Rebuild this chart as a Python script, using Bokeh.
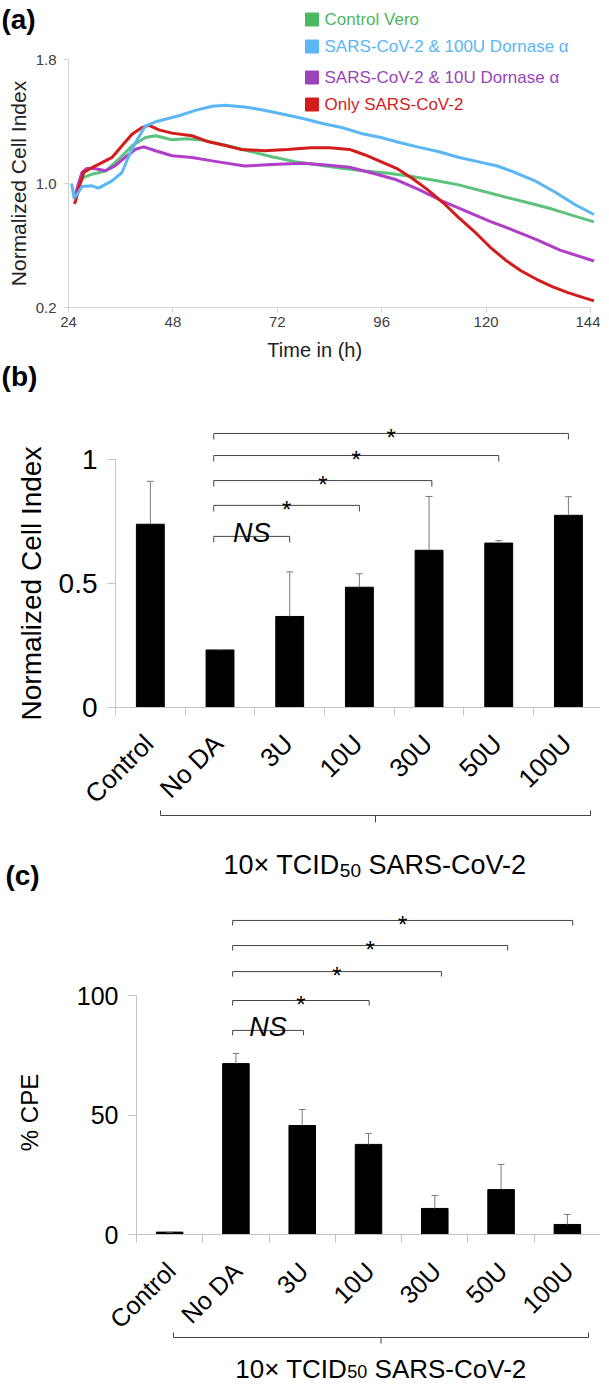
import math
from bokeh.plotting import figure
from bokeh.layouts import column
from bokeh.models import Range1d, FixedTicker, NumeralTickFormatter, ColumnDataSource
from bokeh.core.properties import value
from bokeh.embed import file_html
from bokeh.resources import INLINE

FONT = "Liberation Sans"

# ------------------------------------------------------------------ data (a)
a_names = ["Control Vero", "SARS-CoV-2 & 100U Dornase \u03b1",
           "SARS-CoV-2 & 10U Dornase \u03b1", "Only SARS-CoV-2"]
a_line_colors = ["#5cc27c", "#5ab6f4", "#b13ec6", "#d31c1c"]
a_legend_colors = ["#4cb860", "#5ab6f4", "#9a44ba", "#d31c1c"]
a_xticks = [24, 48, 72, 96, 120, 144]
a_yticks = [0.2, 1.0, 1.8]

green_t = [25.3, 26.4, 27.5, 29.4, 32.5, 35.5, 38.6, 41.7, 44.0, 47.8, 51.1, 54.7, 60.0, 65.4,
           70.7, 76.1, 81.5, 86.8, 92.2, 97.6, 103.0, 108.4, 113.7, 119.1, 124.5, 129.9, 135.2,
           140.6, 144.8]
green_v = [0.90, 0.99, 1.04, 1.06, 1.08, 1.155, 1.243, 1.297, 1.308, 1.282, 1.289, 1.28, 1.248,
           1.21, 1.173, 1.141, 1.12, 1.098, 1.081, 1.066, 1.045, 1.019, 0.991, 0.952, 0.912,
           0.874, 0.835, 0.788, 0.752]

blue_t = [24.7, 25.3, 26.2, 27.1, 29.4, 30.9, 34.0, 36.3, 37.9, 39.4, 41.7, 44.0, 49.4, 53.0,
          57.0, 60.0, 64.5, 69.0, 73.4, 77.9, 82.4, 86.8, 91.3, 95.8, 100.3, 104.7, 109.2, 113.6,
          118.1, 122.6, 127.1, 131.5, 136.0, 140.5, 144.8]
blue_v = [1.00, 0.905, 0.94, 0.98, 0.985, 0.97, 1.017, 1.071, 1.179, 1.265, 1.372, 1.398, 1.437,
          1.47, 1.498, 1.505, 1.494, 1.473, 1.447, 1.419, 1.387, 1.361, 1.323, 1.297, 1.263,
          1.233, 1.205, 1.169, 1.141, 1.113, 1.066, 1.013, 0.942, 0.863, 0.80]

purple_t = [25.3, 26.3, 27.1, 28.2, 29.9, 32.5, 34.7, 37.0, 39.4, 41.3, 44.0, 47.8, 52.4, 57.0,
            64.5, 70.7, 77.9, 83.3, 88.6, 94.0, 99.4, 104.7, 110.1, 115.5, 120.9, 126.3, 131.6,
            137.0, 144.8]
purple_v = [0.90, 1.00, 1.071, 1.097, 1.097, 1.082, 1.114, 1.168, 1.221, 1.236, 1.211, 1.179,
            1.168, 1.146, 1.113, 1.122, 1.13, 1.12, 1.105, 1.066, 1.024, 0.959, 0.884, 0.82,
            0.756, 0.698, 0.638, 0.57, 0.50]

red_t = [25.3, 25.6, 26.3, 27.5, 29.4, 31.7, 34.0, 36.3, 38.6, 40.9, 42.4, 44.8, 47.8, 52.4,
         56.2, 60.0, 63.6, 69.0, 74.3, 79.7, 84.1, 88.6, 92.2, 95.8, 99.4, 103.0, 106.6, 110.2,
         113.7, 117.3, 120.9, 124.5, 128.0, 131.6, 135.2, 138.8, 142.4, 144.8]
red_v = [0.87, 0.884, 0.963, 1.071, 1.103, 1.135, 1.168, 1.243, 1.318, 1.361, 1.376, 1.346,
         1.325, 1.308, 1.269, 1.245, 1.22, 1.212, 1.22, 1.231, 1.231, 1.22, 1.184, 1.141, 1.098,
         1.034, 0.959, 0.874, 0.78, 0.69, 0.59, 0.505, 0.437, 0.382, 0.335, 0.296, 0.264, 0.243]

# ------------------------------------------------------------------ data (b), (c)
categories = ["Control", "No DA", "3U", "10U", "30U", "50U", "100U"]
b_mean = [0.739, 0.232, 0.367, 0.485, 0.634, 0.663, 0.775]
b_sd = [0.173, 0.001, 0.180, 0.054, 0.217, 0.010, 0.075]
b_yticks = [0, 0.5, 1]
b_compare = ["3U", "10U", "30U", "50U", "100U"]
b_sig = ["NS", "*", "*", "*", "*"]

c_mean = [1.0, 71.5, 45.6, 37.7, 10.9, 18.8, 4.2]
c_sd = [0.0, 4.2, 6.7, 4.6, 5.4, 10.5, 4.2]
c_yticks = [0, 50, 100]
c_compare = ["3U", "10U", "30U", "50U", "100U"]
c_sig = ["NS", "*", "*", "*", "*"]

group_label = ("10\u00d7 TCID", "50", "SARS-CoV-2")

# ------------------------------------------------------------------ helpers
AXIS_GREY = "#c4c4c4"
ERR_GREY = "#7a7a7a"
BRACKET = "#444444"


def base_fig(height, xr, yr):
    p = figure(width=600, height=height, x_range=xr, y_range=yr, output_backend="svg",
               toolbar_location=None, min_border_left=0, min_border_right=0,
               min_border_top=0, min_border_bottom=0)
    p.xgrid.visible = False
    p.ygrid.visible = False
    p.outline_line_color = None
    p.background_fill_color = "white"
    p.border_fill_color = "white"
    return p


def txt(p, x, y, s, size, align="center", baseline="middle", color="black", style="normal",
        angle=0.0):
    p.text(x=[x], y=[y], text=[s], text_font=value(FONT), text_font_size=f"{size}px",
           text_color=color, text_align=align, text_baseline=baseline,
           text_font_style=style, angle=angle)


def sub_text(p, xc, y, px_per_unit, px_per_unit_y, size, sub_size, drop):
    """Group label with subscript, centred on xc (data units)."""
    w1 = 4.307 * size / px_per_unit
    w2 = 1.112 * sub_size / px_per_unit
    sp = 0.278 * size / px_per_unit
    w3 = 5.890 * size / px_per_unit
    left = xc - (w1 + w2 + sp + w3) / 2
    x1 = left + w1
    txt(p, x1, y, group_label[0], size, align="right", baseline="alphabetic")
    txt(p, x1, y - drop / px_per_unit_y, group_label[1], sub_size, align="left",
        baseline="alphabetic")
    txt(p, x1 + w2 + sp, y, group_label[2], size, align="left", baseline="alphabetic")


# ================================================================== panel (a)
A_PX = 522 / 120.0      # px per hour
A_PY = 155.0            # px per unit


def ax(px):
    return 24 + (px - 76) / A_PX


def ay(py):
    return 0.2 + (315 - py) / A_PY


pa = base_fig(362, Range1d(ax(8), ax(608)), Range1d(ay(370), ay(8)))
for t, v, c in [(green_t, green_v, a_line_colors[0]), (purple_t, purple_v, a_line_colors[2]),
                (red_t, red_v, a_line_colors[3]), (blue_t, blue_v, a_line_colors[1])]:
    pa.line(t, v, line_width=3, line_color=c)

pa.xaxis.fixed_location = 0.2
pa.yaxis.fixed_location = 24
pa.xaxis.bounds = (24, 144)
pa.yaxis.bounds = (0.2, 1.8)
for axis in (pa.xaxis[0], pa.yaxis[0]):
    axis.axis_line_color = "#d4d4d4"
    axis.major_tick_line_color = "#d4d4d4"
    axis.minor_tick_line_color = None
    axis.major_tick_in = 0
    axis.major_tick_out = 5
    axis.major_label_text_font = FONT
    axis.major_label_text_font_size = "15px"
    axis.major_label_text_color = "#404040"
pa.xaxis.ticker = FixedTicker(ticks=a_xticks)
pa.yaxis.ticker = FixedTicker(ticks=a_yticks)
pa.yaxis.formatter = NumeralTickFormatter(format="0.0")
pa.xaxis.major_label_standoff = 4
pa.yaxis.major_label_standoff = 7

leg_rows = [27, 54, 85, 112]
leg = ColumnDataSource(dict(x=[ax(319.5)] * 4, tx=[ax(332)] * 4,
                            y=[ay(r) for r in leg_rows], name=a_names,
                            col=a_legend_colors))
pa.scatter(x="x", y="y", marker="square", size=13, color="col", source=leg)
pa.text(x="tx", y="y", text="name", text_color="col", source=leg,
        text_font=value(FONT), text_font_size="17px", text_baseline="middle",
        text_align="left")

txt(pa, ax(26), ay(27), "(a)", 28, style="bold")
txt(pa, ax(26), ay(191), "Normalized Cell Index", 21, color="#222222", angle=math.pi / 2)
txt(pa, ax(325), ay(357), "Time  in (h)", 20, color="#222222")

# ================================================================== bar panels


def bar_panel(p, mean, sd, yticks, ybound, px_x, px_y, tick_size, lab_size, lab_dx, lab_drop,
              compare, sig, br_start, br_end_shift, br_heights, br_drop, ns_size, star_size):
    n = len(categories)
    xs = list(range(1, n + 1))
    top = [m + s for m, s in zip(mean, sd)]
    p.vbar(x=xs, top=mean, width=0.4, fill_color="black", line_color="black")
    p.segment(x0=xs, y0=mean, x1=xs, y1=top, line_color=ERR_GREY, line_width=1)
    p.segment(x0=[x - 0.05 for x in xs], y0=top, x1=[x + 0.05 for x in xs], y1=top,
              line_color=ERR_GREY, line_width=1)

    p.xaxis.fixed_location = 0
    p.yaxis.fixed_location = 0.5
    p.yaxis.bounds = ybound
    p.xaxis.bounds = (0.5, n + 0.5)
    p.yaxis.ticker = FixedTicker(ticks=yticks)
    p.yaxis.formatter = NumeralTickFormatter(format="0.[0]")
    p.xaxis.ticker = FixedTicker(ticks=[], minor_ticks=[x + 0.5 for x in range(0, n + 1)])
    for axis in (p.xaxis[0], p.yaxis[0]):
        axis.axis_line_color = AXIS_GREY
        axis.major_label_text_font = FONT
        axis.major_label_text_color = "black"
    p.yaxis.major_tick_line_color = AXIS_GREY
    p.yaxis.major_tick_in = 0
    p.yaxis.major_tick_out = 8
    p.yaxis.minor_tick_line_color = None
    p.yaxis.major_label_text_font_size = f"{tick_size}px"
    p.yaxis.major_label_standoff = 10
    p.xaxis.major_tick_line_color = None
    p.xaxis.minor_tick_line_color = AXIS_GREY
    p.xaxis.minor_tick_in = 0
    p.xaxis.minor_tick_out = 8

    # rotated category labels
    p.text(x=[x + lab_dx / px_x for x in xs], y=[-lab_drop / px_y] * n, text=categories,
           angle=math.pi / 4, text_font=value(FONT), text_font_size=f"{lab_size}px",
           text_color="black", text_align="right", text_baseline="middle")

    # significance brackets
    x0s, x1s, hs, mids = [], [], [], []
    for cat, shift, h in zip(compare, br_end_shift, br_heights):
        xe = categories.index(cat) + 1 + shift
        x0s.append(br_start)
        x1s.append(xe)
        hs.append(h)
        mids.append((br_start + xe) / 2)
    p.segment(x0=x0s, y0=hs, x1=x1s, y1=hs, line_color=BRACKET, line_width=1)
    p.segment(x0=x0s, y0=hs, x1=x0s, y1=[h - br_drop for h in hs], line_color=BRACKET,
              line_width=1)
    p.segment(x0=x1s, y0=hs, x1=x1s, y1=[h - br_drop for h in hs], line_color=BRACKET,
              line_width=1)
    for s, xm, h in zip(sig, mids, hs):
        if s == "NS":
            txt(p, xm, h + 3 / px_y, s, ns_size, baseline="alphabetic", style="italic")
        else:
            txt(p, xm, h - 4 / px_y, s, star_size, baseline="alphabetic")


# ---------------------------------------------------------------- panel (b)
B_PX, B_PY, B_LEFT = 69.68, 248.0, 123


def bx(px):
    return 0.5 + (px - B_LEFT) / B_PX


def by(py):
    return (715 - py) / B_PY


pb = base_fig(530, Range1d(bx(8), bx(608)), Range1d(by(900), by(370)))
bar_panel(pb, b_mean, b_sd, b_yticks, (0, 1), B_PX, B_PY, tick_size=28, lab_size=26,
          lab_dx=-1.5, lab_drop=31.5, compare=b_compare, sig=b_sig, br_start=1.91,
          br_end_shift=[0.0, 0.0, 0.04, 0.0, 0.0],
          br_heights=[0.69, 0.815, 0.915, 1.016, 1.105], br_drop=6 / B_PY,
          ns_size=27, star_size=24)
txt(pb, bx(27), by(384), "(b)", 28, style="bold")
txt(pb, bx(39), by(591), "Normalized Cell Index", 28, angle=math.pi / 2)

b_l, b_r = bx(168), bx(598)
b_m = (b_l + b_r) / 2
pb.segment(x0=[b_l, b_l, b_r, b_m], y0=[by(823)] * 4, x1=[b_r, b_l, b_r, b_m],
           y1=[by(823), by(818), by(818), by(830)], line_color=BRACKET, line_width=1)
sub_text(pb, bx(383), by(872), B_PX, B_PY, 27, 19, 6)
txt(pb, bx(30), by(883), "(c)", 28, style="bold")

# ---------------------------------------------------------------- panel (c)
C_PX, C_PY, C_LEFT = 464 / 7.0, 2.39, 144


def cx(px):
    return 0.5 + (px - C_LEFT) / C_PX


def cy(py):
    return (1242 - py) / C_PY


pc = base_fig(492, Range1d(cx(8), cx(608)), Range1d(cy(1392), cy(900)))
bar_panel(pc, c_mean, c_sd, c_yticks, (0, 100), C_PX, C_PY, tick_size=25, lab_size=25,
          lab_dx=1.5, lab_drop=32, compare=c_compare, sig=c_sig, br_start=1.95,
          br_end_shift=[0.02, 0.01, 0.1, 0.1, 0.08],
          br_heights=[85.4, 97.9, 110.0, 120.9, 131.4], br_drop=5 / C_PY,
          ns_size=27, star_size=24)
txt(pc, cx(37), cy(1120), "% CPE", 24, angle=math.pi / 2)

c_l, c_r = cx(181), cx(596)
c_m = (c_l + c_r) / 2
pc.segment(x0=[c_l, c_l, c_r, c_m], y0=[cy(1345)] * 4, x1=[c_r, c_l, c_r, c_m],
           y1=[cy(1345), cy(1340), cy(1340), cy(1351)], line_color=BRACKET, line_width=1)
sub_text(pc, cx(389), cy(1376), C_PX, C_PY, 26, 18, 3)

layout = column(pa, pb, pc, spacing=0)
open("out.html", "w").write(file_html(layout, INLINE))
